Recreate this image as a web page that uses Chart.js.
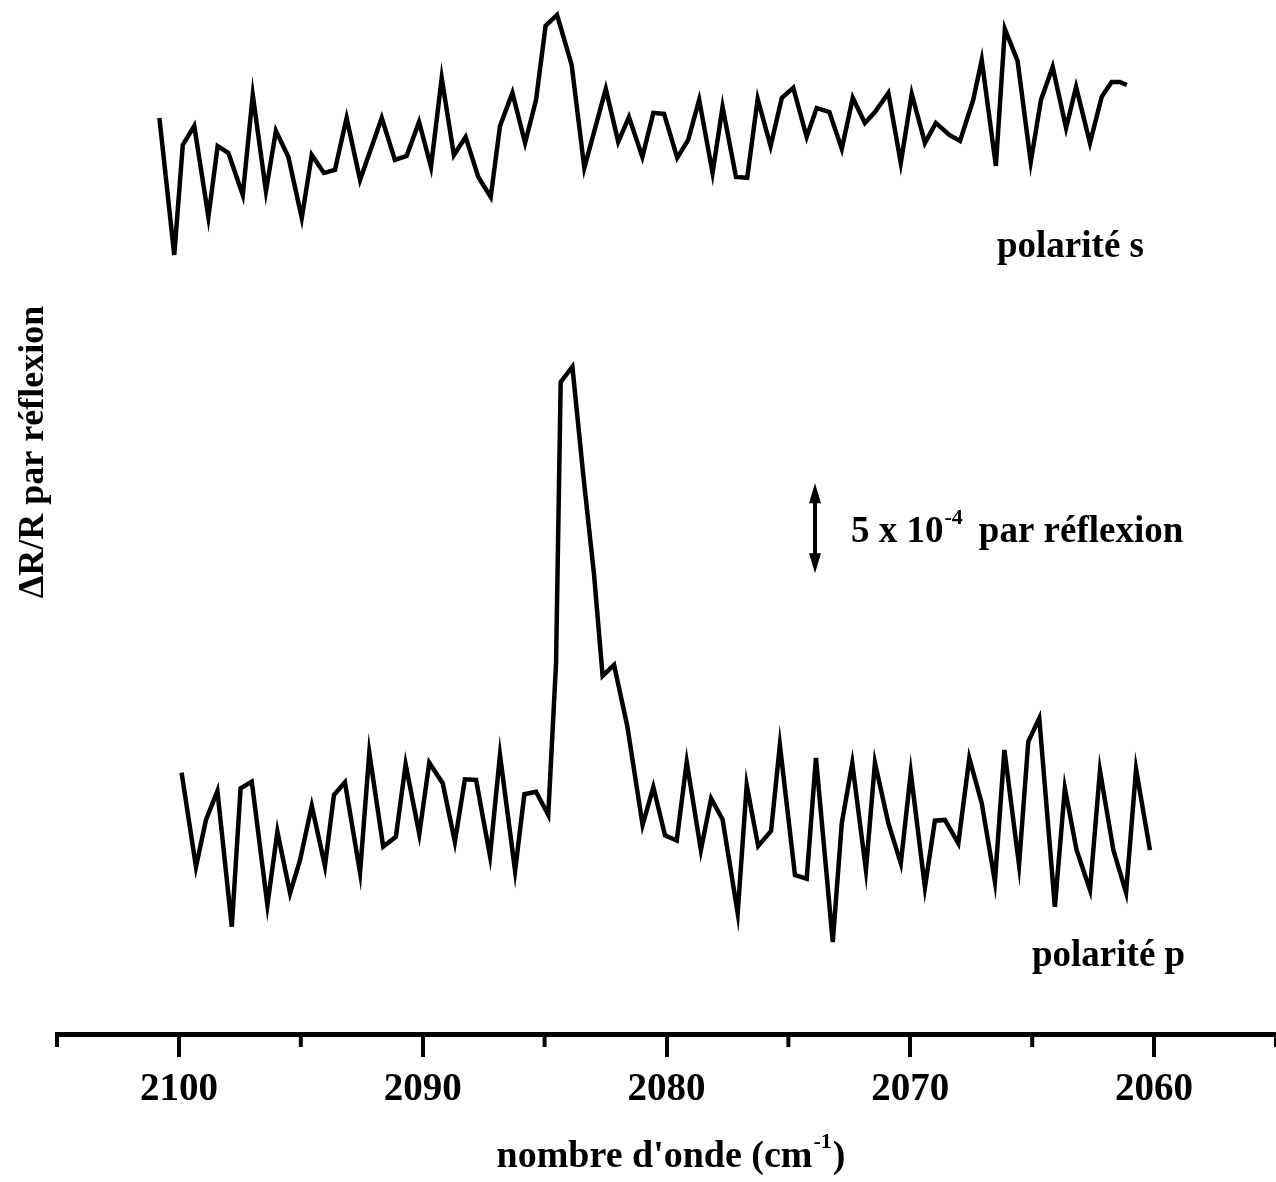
<!DOCTYPE html>
<html>
<head>
<meta charset="utf-8">
<script src="https://cdn.jsdelivr.net/npm/chart.js@4/dist/chart.umd.min.js"></script>
<style>
  html, body { margin: 0; padding: 0; background: #fff; }
  canvas { display: block; }
</style>
</head>
<body>
<canvas id="spectra" width="1276" height="1182"></canvas>
<script>
// wavenumbers (cm-1) and dR/R values (units of 1e-4, stacked with an offset)
const sWavenumber = [2100.80, 2100.19, 2099.84, 2099.37, 2098.79, 2098.41, 2097.97, 2097.38, 2096.97, 2096.43,
  2096.02, 2095.51, 2094.96, 2094.55, 2094.05, 2093.60, 2093.12, 2092.57, 2091.68, 2091.14,
  2090.66, 2090.15, 2089.66, 2089.22, 2088.72, 2088.24, 2087.72, 2087.21, 2086.83, 2086.32,
  2085.80, 2085.35, 2084.96, 2084.49, 2083.89, 2083.37, 2082.49, 2081.98, 2081.54, 2080.99,
  2080.54, 2080.10, 2079.56, 2079.11, 2078.66, 2078.11, 2077.70, 2077.15, 2076.69, 2076.26,
  2075.73, 2075.27, 2074.80, 2074.25, 2073.84, 2073.32, 2072.81, 2072.36, 2071.86, 2071.45,
  2070.90, 2070.39, 2069.94, 2069.40, 2068.95, 2068.40, 2067.96, 2067.42, 2067.07, 2066.49,
  2066.12, 2065.60, 2065.06, 2064.64, 2064.16, 2063.61, 2063.20, 2062.63, 2062.15, 2061.74,
  2061.40, 2061.12];
const sValues = [50.89, 43.28, 49.39, 50.44, 45.39, 49.33, 48.94, 46.61, 52.17, 46.83,
  50.17, 48.72, 45.33, 48.83, 47.83, 48.00, 50.89, 47.44, 50.89, 48.56,
  48.78, 50.67, 48.17, 53.11, 48.83, 49.83, 47.61, 46.50, 50.44, 52.28,
  49.50, 51.89, 56.00, 56.61, 53.83, 48.11, 52.50, 49.56, 50.94, 48.72,
  51.17, 51.11, 48.67, 49.67, 51.89, 47.83, 51.50, 47.61, 47.56, 51.94,
  49.33, 52.00, 52.56, 49.83, 51.44, 51.22, 49.17, 52.00, 50.61, 51.22,
  52.28, 48.39, 52.22, 49.50, 50.61, 49.94, 49.61, 51.89, 54.11, 48.22,
  55.83, 54.06, 48.44, 51.89, 53.72, 50.33, 52.61, 49.50, 52.06, 52.89,
  52.89, 52.72];

const pWavenumber = [2099.89, 2099.30, 2098.89, 2098.42, 2097.83, 2097.47, 2097.01, 2096.37, 2095.96, 2095.44,
  2095.03, 2094.55, 2094.01, 2093.64, 2093.19, 2092.57, 2092.19, 2091.62, 2091.10, 2090.70,
  2090.14, 2089.73, 2089.18, 2088.68, 2088.27, 2087.81, 2087.24, 2086.83, 2086.21, 2085.83,
  2085.35, 2084.85, 2084.53, 2084.34, 2083.86, 2083.41, 2082.97, 2082.62, 2082.15, 2081.61,
  2080.98, 2080.54, 2080.06, 2079.58, 2079.17, 2078.59, 2078.17, 2077.70, 2077.08, 2076.71,
  2076.24, 2075.71, 2075.35, 2074.73, 2074.25, 2073.87, 2073.18, 2072.81, 2072.38, 2071.82,
  2071.45, 2070.90, 2070.39, 2069.98, 2069.40, 2068.99, 2068.58, 2068.03, 2067.58, 2067.07,
  2066.53, 2066.14, 2065.54, 2065.16, 2064.71, 2064.07, 2063.66, 2063.18, 2062.63, 2062.22,
  2061.67, 2061.15, 2060.74, 2060.17];
const pValues = [14.52, 9.29, 11.89, 13.50, 5.96, 13.65, 14.02, 7.17, 11.24, 7.82,
  9.67, 12.67, 9.33, 13.28, 13.98, 8.96, 15.63, 10.41, 10.96, 14.98,
  11.11, 15.07, 13.93, 10.68, 14.15, 14.11, 9.89, 15.50, 9.06, 13.32,
  13.46, 12.17, 20.61, 36.22, 37.06, 31.00, 25.50, 19.89, 20.50, 17.11,
  11.61, 13.72, 11.03, 10.75, 15.11, 10.22, 13.08, 11.92, 6.72, 13.83,
  10.44, 11.28, 16.06, 8.83, 8.63, 15.33, 5.11, 11.72, 15.04, 9.11,
  15.07, 11.71, 9.48, 14.52, 8.15, 11.85, 11.89, 10.59, 15.32, 12.82,
  8.46, 15.78, 9.39, 16.24, 17.54, 7.07, 13.65, 10.22, 8.00, 14.63,
  10.22, 7.85, 14.71, 10.22];

const xMin = 2055, xMax = 2105;
const yMin = 0, yMax = 57.44;
const scaleBar = 5;          // 5 x 10^-4
const scaleBarCenter = 28.1;

Chart.defaults.font.family = '"Liberation Serif", "Times New Roman", serif';
Chart.defaults.font.weight = 'bold';
Chart.defaults.color = '#000';

function toPoints(xs, ys) {
    return xs.map((x, i) => ({ x: x, y: ys[i] }));
}

// minor ticks, labels, scale bar and axis titles
const annotations = {
    id: 'annotations',
    afterDraw(chart) {
        const ctx = chart.ctx;
        const xs = chart.scales.x;
        const ys = chart.scales.y;
        const bottom = chart.chartArea.bottom;
        ctx.save();
        ctx.strokeStyle = '#000';
        ctx.fillStyle = '#000';

        // minor ticks (shorter)
        ctx.lineWidth = 4;
        xs.ticks.forEach(t => {
            if (t.value % 10 !== 0) {
                const px = xs.getPixelForValue(t.value);
                ctx.beginPath();
                ctx.moveTo(px, bottom);
                ctx.lineTo(px, bottom + 13);
                ctx.stroke();
            }
        });

        // scale bar with arrow heads
        const ax = 815;
        const yTop = ys.getPixelForValue(scaleBarCenter + scaleBar / 2);
        const yBot = ys.getPixelForValue(scaleBarCenter - scaleBar / 2);
        ctx.lineWidth = 4;
        ctx.beginPath();
        ctx.moveTo(ax, yTop + 14);
        ctx.lineTo(ax, yBot - 14);
        ctx.stroke();
        ctx.beginPath();
        ctx.moveTo(ax, yTop);
        ctx.lineTo(ax - 6, yTop + 20);
        ctx.lineTo(ax + 6, yTop + 20);
        ctx.closePath();
        ctx.fill();
        ctx.beginPath();
        ctx.moveTo(ax, yBot);
        ctx.lineTo(ax - 6, yBot - 20);
        ctx.lineTo(ax + 6, yBot - 20);
        ctx.closePath();
        ctx.fill();

        const big = 'bold 37px "Liberation Serif", serif';
        const sup = 'bold 22px "Liberation Serif", serif';
        ctx.textBaseline = 'alphabetic';
        ctx.textAlign = 'left';

        ctx.font = big;
        ctx.fillText('polarité s', 997, 257);
        ctx.fillText('polarité p', 1032, 966);

        // "5 x 10^-4  par réflexion"
        let x = 851;
        ctx.fillText('5 x 10', x, 542);
        x += ctx.measureText('5 x 10').width + 1;
        ctx.font = sup;
        ctx.fillText('-4', x, 524);
        x += ctx.measureText('-4').width + 16;
        ctx.font = big;
        ctx.fillText('par réflexion', x, 542);

        // x axis title with superscript
        ctx.font = 'bold 38px "Liberation Serif", serif';
        const t1 = "nombre d'onde (cm";
        const w1 = ctx.measureText(t1).width;
        ctx.font = sup;
        const w2 = ctx.measureText('-1').width;
        ctx.font = 'bold 38px "Liberation Serif", serif';
        const w3 = ctx.measureText(')').width;
        let tx = 671 - (w1 + w2 + w3 + 2) / 2;
        ctx.fillText(t1, tx, 1167);
        tx += w1 + 1;
        ctx.font = sup;
        ctx.fillText('-1', tx, 1148);
        tx += w2 + 1;
        ctx.font = 'bold 38px "Liberation Serif", serif';
        ctx.fillText(')', tx, 1167);

        // y axis title, rotated
        ctx.translate(43, 452);
        ctx.rotate(-Math.PI / 2);
        ctx.font = 'bold 36px "Liberation Serif", serif';
        ctx.textAlign = 'center';
        ctx.fillText('ΔR/R par réflexion', 0, 0);
        ctx.restore();
    }
};

new Chart(document.getElementById('spectra'), {
    type: 'line',
    data: {
        datasets: [
            {
                label: 'polarité s',
                data: toPoints(sWavenumber, sValues),
                borderColor: '#000',
                borderWidth: 4.5,
                pointRadius: 0,
                tension: 0,
                fill: false
            },
            {
                label: 'polarité p',
                data: toPoints(pWavenumber, pValues),
                borderColor: '#000',
                borderWidth: 4.5,
                pointRadius: 0,
                tension: 0,
                fill: false
            }
        ]
    },
    options: {
        responsive: false,
        animation: false,
        layout: { padding: { left: 57, right: 0, top: 0, bottom: 0 } },
        plugins: {
            legend: { display: false },
            tooltip: { enabled: false }
        },
        scales: {
            x: {
                type: 'linear',
                reverse: true,
                min: xMin,
                max: xMax,
                afterFit: (scale) => {
                    scale.height = 148;
                    scale.paddingLeft = 0;
                    scale.paddingRight = 0;
                },
                border: { display: true, width: 5, color: '#000' },
                grid: {
                    drawOnChartArea: false,
                    drawTicks: true,
                    tickLength: 23,
                    lineWidth: 4,
                    color: (c) => (c.tick && c.tick.value % 10 === 0) ? '#000' : 'rgba(0,0,0,0)'
                },
                ticks: {
                    stepSize: 5,
                    padding: 10,
                    maxRotation: 0,
                    autoSkip: false,
                    font: { size: 39, weight: 'bold' },
                    color: '#000',
                    callback: (v) => (v % 10 === 0 ? String(v) : '')
                }
            },
            y: {
                display: false,
                min: yMin,
                max: yMax
            }
        }
    },
    plugins: [annotations]
});
</script>
</body>
</html>
